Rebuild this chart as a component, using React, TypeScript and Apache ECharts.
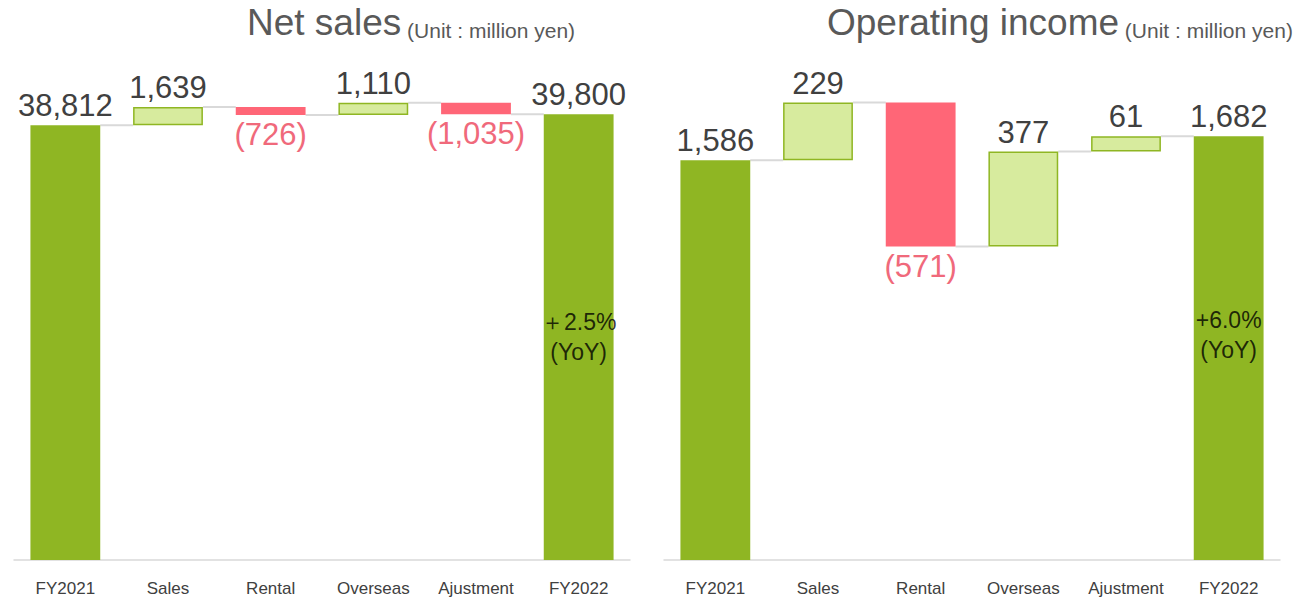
import React, { useEffect, useRef } from "react";
import * as echarts from "echarts";

const categories = ["FY2021", "Sales", "Rental", "Overseas", "Ajustment", "FY2022"];
const salesStart = 38812;
const salesDeltas = [1639, -726, 1110, -1035];
const salesEnd = 39800;
const salesYoY = "＋2.5%";
const incomeStart = 1586;
const incomeDeltas = [229, -571, 377, 61];
const incomeEnd = 1682;
const incomeYoY = "+6.0%";

const FONT = "'Liberation Sans', Arial, sans-serif";
const DARK = "#8FB623";
const LIGHT = "#D7EB9E";
const RED = "#FF6677";
const RED_TEXT = "#F0697B";
const TEXT = "#404040";
const BAR_W = 0.68;

function build(start: number, deltas: number[], end: number) {
  const base: number[] = [0];
  const vals: any[] = [];
  const levels: number[] = [start];
  let running = start;
  vals.push({ value: start, itemStyle: { color: DARK }, label: { position: "top", color: TEXT } });
  deltas.forEach((d) => {
    if (d >= 0) {
      base.push(running);
      running += d;
    } else {
      running += d;
      base.push(running);
    }
    levels.push(running);
    vals.push({
      value: Math.abs(d),
      signed: d,
      itemStyle: d >= 0 ? { color: LIGHT, borderColor: DARK, borderWidth: 1.5 } : { color: RED },
      label: d >= 0 ? { position: "top", color: TEXT } : { position: "bottom", color: RED_TEXT },
    });
  });
  base.push(0);
  vals.push({ value: end, itemStyle: { color: DARK }, label: { position: "top", color: TEXT } });
  return { base, vals, levels };
}

function fmt(n: number) {
  const s = Math.abs(n).toLocaleString("en-US");
  return n < 0 ? `(${s})` : s;
}

function seriesFor(idx: number, start: number, deltas: number[], end: number, yoy: string, yoyOffset: number) {
  const { base, vals, levels } = build(start, deltas, end);
  return [
    {
      type: "custom",
      xAxisIndex: idx,
      yAxisIndex: idx,
      z: 1,
      silent: true,
      data: levels.map((l, i) => [i, l]),
      renderItem: (params: any, api: any) => {
        const i = api.value(0);
        const lvl = api.value(1);
        const p = api.coord([i, lvl]);
        const band = api.size([1, 0])[0];
        const bw = band * BAR_W;
        return {
          type: "line",
          shape: { x1: p[0] + bw / 2, y1: p[1], x2: p[0] + band - bw / 2, y2: p[1] },
          style: { stroke: "#D9D9D9", lineWidth: 2 },
        };
      },
    },
    {
      type: "bar",
      xAxisIndex: idx,
      yAxisIndex: idx,
      stack: "w" + idx,
      barWidth: BAR_W * 100 + "%",
      itemStyle: { color: "transparent" },
      data: base,
      silent: true,
    },
    {
      type: "bar",
      xAxisIndex: idx,
      yAxisIndex: idx,
      stack: "w" + idx,
      barWidth: BAR_W * 100 + "%",
      z: 3,
      data: vals,
      label: {
        show: true,
        fontSize: 31,
        fontFamily: FONT,
        distance: 4,
        formatter: (p: any) => fmt(p.data.signed !== undefined ? p.data.signed : p.data.value),
      },
    },
    {
      type: "scatter",
      xAxisIndex: idx,
      yAxisIndex: idx,
      z: 5,
      symbolSize: 1,
      itemStyle: { color: "transparent" },
      data: [[categories.length - 1, end / 2]],
      label: {
        show: true,
        position: "inside",
        offset: [0, yoyOffset],
        formatter: yoy + "\n(YoY)",
        fontSize: 23,
        lineHeight: 30,
        color: "#000",
        fontFamily: FONT,
      },
    },
  ];
}

function titleFor(main: string, left: number) {
  return {
    text: `{a|${main}}{b| (Unit : million yen)}`,
    left,
    top: -8,
    textStyle: {
      fontFamily: FONT,
      fontWeight: "normal",
      rich: {
        a: { fontSize: 37, color: "#595959", fontFamily: FONT, fontWeight: "normal", lineHeight: 44, verticalAlign: "bottom" },
        b: { fontSize: 21, color: "#595959", fontFamily: FONT, fontWeight: "normal", lineHeight: 44, verticalAlign: "bottom" },
      },
    },
  };
}

function axisFor(idx: number) {
  return {
    type: "category",
    gridIndex: idx,
    data: categories,
    axisLine: { lineStyle: { color: "#D9D9D9", width: 1.5 } },
    axisTick: { show: false },
    axisLabel: { fontSize: 17, color: TEXT, fontFamily: FONT, margin: 20, interval: 0 },
  };
}

export default function App() {
  const ref = useRef<HTMLDivElement>(null);
  useEffect(() => {
    document.body.style.margin = "0";
    const chart = echarts.init(ref.current!, null, { renderer: "svg" });
    chart.setOption({
      animation: false,
      backgroundColor: "#fff",
      textStyle: { fontFamily: FONT },
      title: [titleFor("Net sales", 242), titleFor("Operating income", 822)],
      grid: [
        { left: 14, width: 616, top: 56, height: 504 },
        { left: 664, width: 616, top: 56, height: 504 },
      ],
      xAxis: [axisFor(0), axisFor(1)],
      yAxis: [
        { type: "value", gridIndex: 0, min: 0, max: 45000, show: false },
        { type: "value", gridIndex: 1, min: 0, max: 2000, show: false },
      ],
      series: [
        ...seriesFor(0, salesStart, salesDeltas, salesEnd, salesYoY, 0),
        ...seriesFor(1, incomeStart, incomeDeltas, incomeEnd, incomeYoY, -13),
      ],
    });
    return () => chart.dispose();
  }, []);
  return <div ref={ref} style={{ width: 1310, height: 598 }} />;
}
